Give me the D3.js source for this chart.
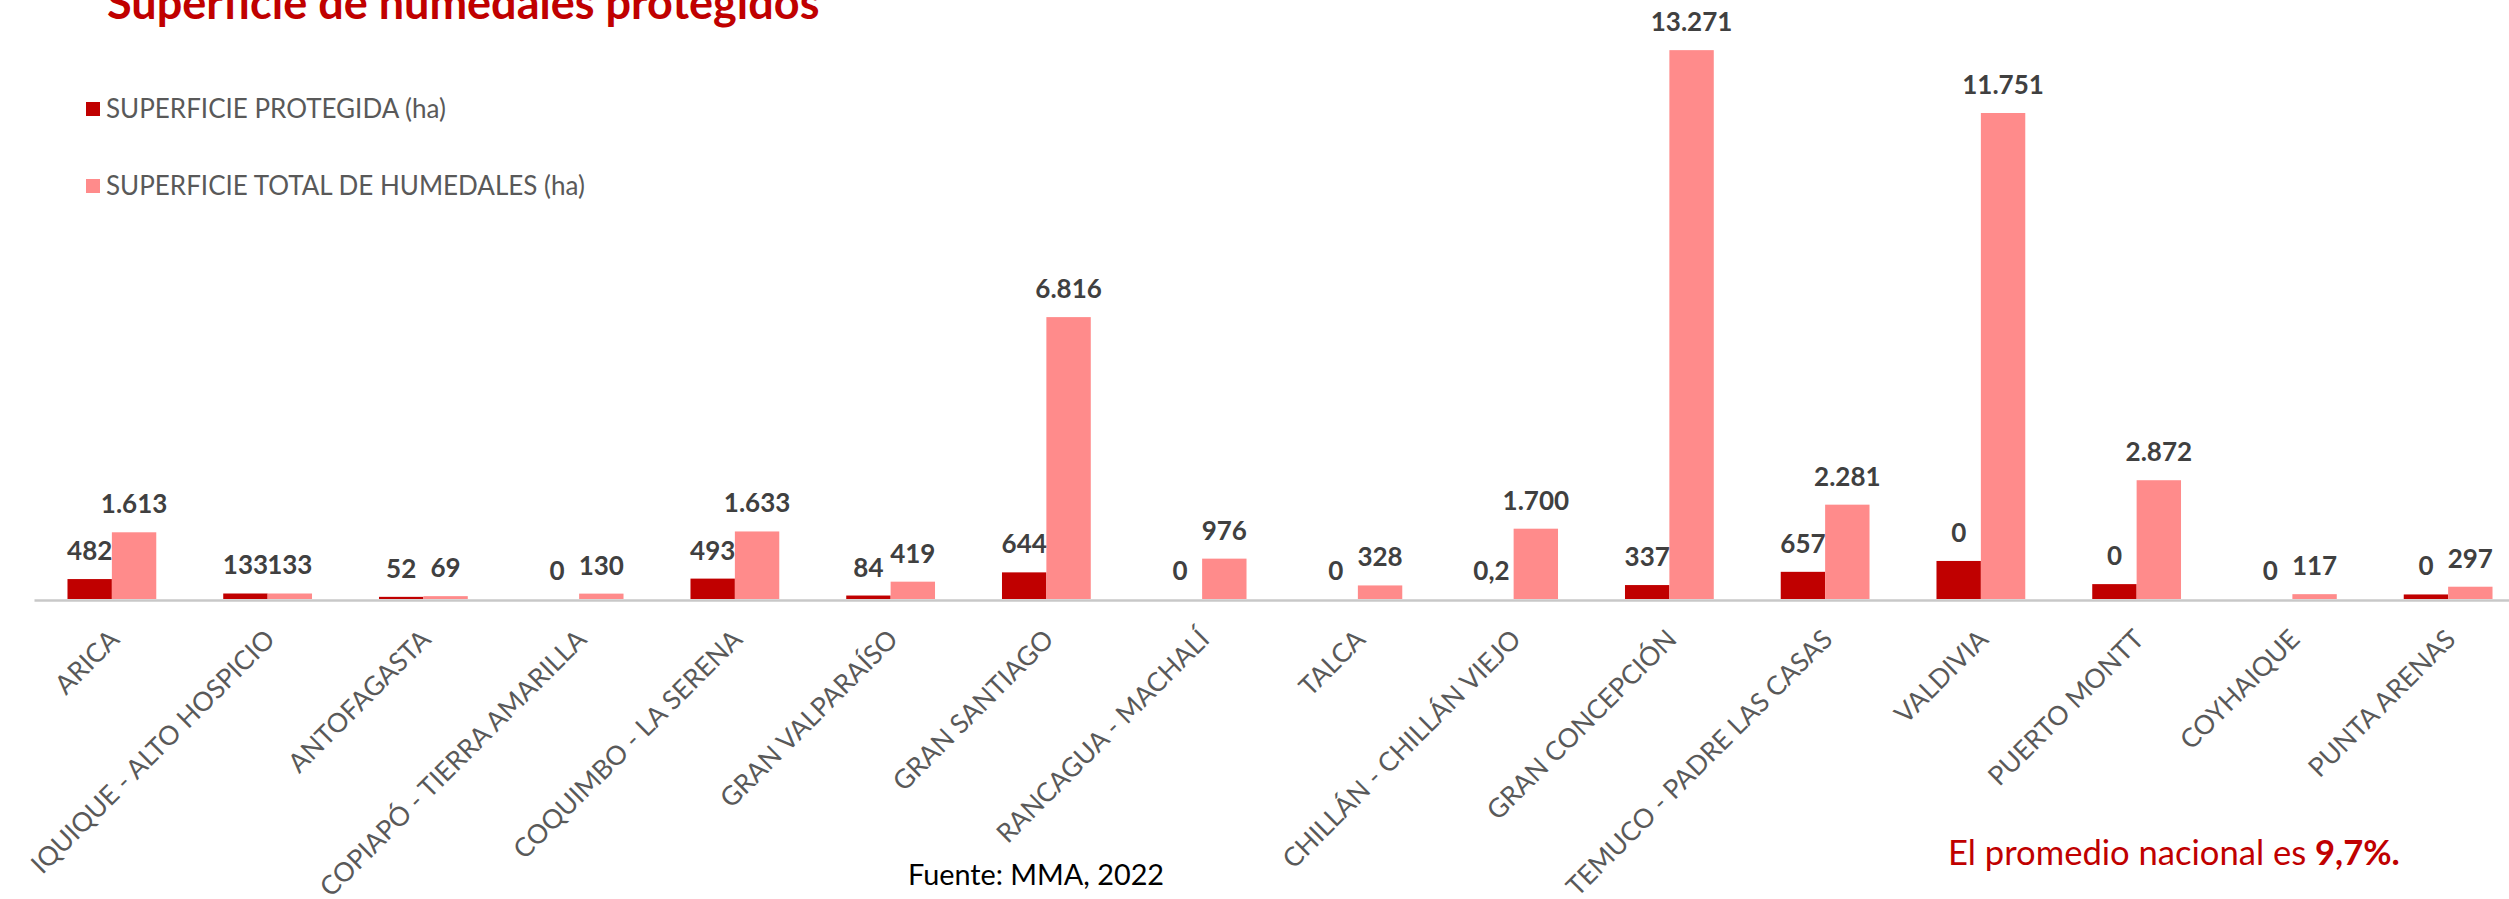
<!DOCTYPE html>
<html>
<head>
<meta charset="utf-8">
<script src="https://cdn.jsdelivr.net/npm/d3@7"></script>
<style>
  body { margin: 0; background: #fff; }
  svg { display: block; }
</style>
</head>
<body>
<div id="chart"></div>
<script>
const width = 2509;
const height = 899;

// datos (ha)
const ciudades = [
  "ARICA",
  "IQUIQUE - ALTO HOSPICIO",
  "ANTOFAGASTA",
  "COPIAPÓ - TIERRA AMARILLA",
  "COQUIMBO - LA SERENA",
  "GRAN VALPARAÍSO",
  "GRAN SANTIAGO",
  "RANCAGUA - MACHALÍ",
  "TALCA",
  "CHILLÁN - CHILLÁN VIEJO",
  "GRAN CONCEPCIÓN",
  "TEMUCO - PADRE LAS CASAS",
  "VALDIVIA",
  "PUERTO MONTT",
  "COYHAIQUE",
  "PUNTA ARENAS",
];
const protegida = [482, 133, 52, 0, 493, 84, 644, 0, 0, 0.2, 337, 657, 920, 360, 0, 110];
const etiquetasProtegida = ["482", "133", "52", "0", "493", "84", "644", "0", "0", "0,2", "337", "657", "0", "0", "0", "0"];
const total = [1613, 133, 69, 130, 1633, 419, 6816, 976, 328, 1700, 13271, 2281, 11751, 2872, 117, 297];

const series = ["SUPERFICIE PROTEGIDA (ha)", "SUPERFICIE TOTAL DE HUMEDALES (ha)"];
const colores = ["#c00000", "#ff8b8b"];

const es = d3.formatLocale({ decimal: ",", thousands: ".", grouping: [3], currency: ["", ""] });
const fmt = es.format(",");

const rows = ciudades.map((c, i) => ({
  ciudad: c,
  valores: [
    { serie: 0, v: protegida[i], label: etiquetasProtegida[i] },
    { serie: 1, v: total[i], label: fmt(total[i]) },
  ],
}));

const svg = d3
  .select("#chart")
  .append("svg")
  .attr("width", width)
  .attr("height", height)
  .style("font-family", "Lato, 'Open Sans', sans-serif");

const x = d3
  .scaleBand()
  .domain(ciudades)
  .range([34, 2526])
  .paddingInner(0.43)
  .paddingOuter(0.215);

const xSub = d3.scaleBand().domain([0, 1]).range([0, x.bandwidth()]);

const y = d3.scaleLinear().domain([0, 14000]).range([599, 20]);

// titulo (cortado arriba como en el original)
svg
  .append("text")
  .attr("x", 107)
  .attr("y", 19)
  .attr("fill", "#c00000")
  .attr("font-weight", "bold")
  .attr("font-size", "45px")
  .text("Superficie de humedales protegidos");

// leyenda
const legend = svg
  .append("g")
  .selectAll("g")
  .data(series)
  .join("g")
  .attr("transform", (d, i) => `translate(86, ${109 + i * 77})`);

legend
  .append("rect")
  .attr("x", 0)
  .attr("y", -7)
  .attr("width", 14)
  .attr("height", 14)
  .attr("fill", (d, i) => colores[i]);

legend
  .append("text")
  .attr("x", 20)
  .attr("y", 0)
  .attr("dy", "0.36em")
  .attr("font-size", "26px")
  .attr("fill", "#595959")
  .text((d) => d);

// barras
const grupos = svg
  .append("g")
  .selectAll("g")
  .data(rows)
  .join("g")
  .attr("transform", (d) => `translate(${x(d.ciudad)}, 0)`);

grupos
  .selectAll("rect")
  .data((d) => d.valores)
  .join("rect")
  .attr("x", (d) => xSub(d.serie))
  .attr("y", (d) => y(d.v))
  .attr("width", xSub.bandwidth())
  .attr("height", (d) => y(0) - y(d.v))
  .attr("fill", (d) => colores[d.serie]);

grupos
  .selectAll("text")
  .data((d) => d.valores)
  .join("text")
  .attr("x", (d) => xSub(d.serie) + xSub.bandwidth() / 2)
  .attr("y", (d) => y(d.v) - 19)
  .attr("text-anchor", "middle")
  .attr("font-weight", "bold")
  .attr("font-size", "26px")
  .attr("fill", "#404040")
  .text((d) => d.label);

// eje x
const axis = svg
  .append("g")
  .attr("transform", "translate(0, 600)")
  .call(d3.axisBottom(x).tickSize(0).tickSizeOuter(0));

axis.select(".domain").attr("stroke", "#c8c8c8").attr("stroke-width", 2.5);

axis
  .selectAll("text")
  .attr("x", 0)
  .attr("y", 0)
  .attr("dy", 0)
  .attr("text-anchor", "end")
  .attr("transform", "translate(9, 41) rotate(-45)")
  .attr("font-family", "Lato, 'Open Sans', sans-serif")
  .attr("font-size", "26.5px")
  .attr("fill", "#595959");

// notas
svg
  .append("text")
  .attr("x", 908)
  .attr("y", 885)
  .attr("font-size", "28.8px")
  .attr("fill", "#000")
  .text("Fuente: MMA, 2022");

const nota = svg
  .append("text")
  .attr("x", 1948)
  .attr("y", 865)
  .attr("font-size", "34.6px")
  .attr("fill", "#c00000");

nota.append("tspan").text("El promedio nacional es ");
nota.append("tspan").attr("font-weight", "bold").text("9,7%.");
</script>
</body>
</html>
